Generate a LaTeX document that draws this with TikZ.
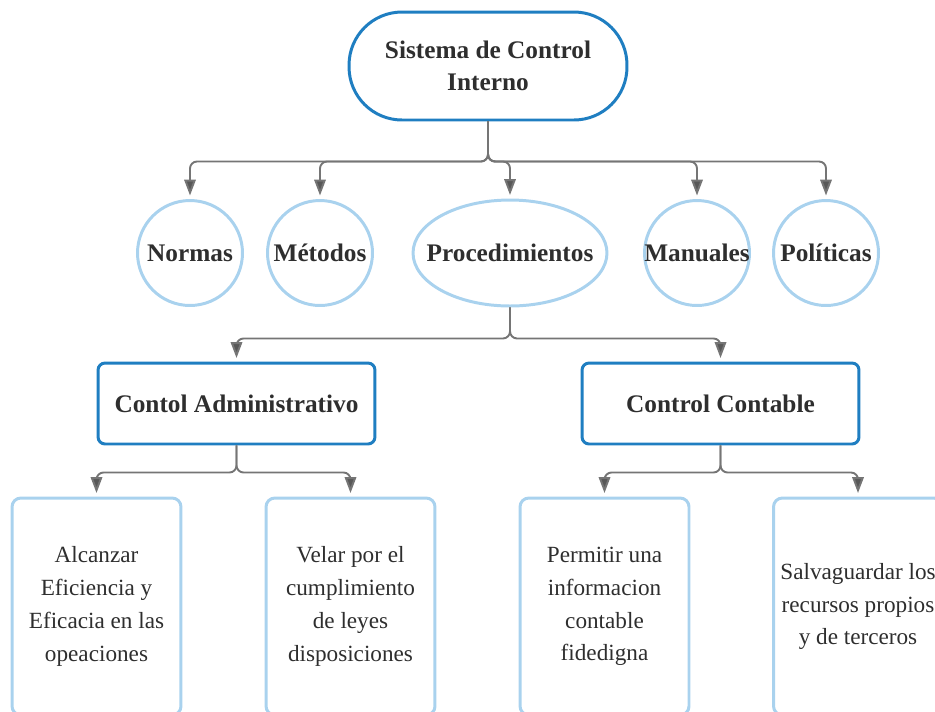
\documentclass[tikz,border=0pt]{standalone}
\usepackage{fontspec}
\setmainfont{Liberation Serif}
\usepackage{xcolor}
\definecolor{pillblue}{HTML}{1F7EC1}
\definecolor{paleblue}{HTML}{A9D2EE}
\definecolor{linkgrey}{HTML}{757575}
\definecolor{inkdark}{HTML}{2E2E2E}
\usepackage{tikz}
\usetikzlibrary{arrows.meta,shapes.geometric}

\begin{document}
\begin{tikzpicture}[x=0.02cm, y=-0.02cm,
    rootnode/.style={draw=pillblue, line width=1.7pt, rounded corners=1.06cm, minimum width=5.56cm, minimum height=2.16cm, align=center, text=inkdark, font=\bfseries\fontsize{14.4}{18}\selectfont},
    roundnode/.style={circle, draw=paleblue, line width=1.7pt, minimum size=2.1cm, inner sep=-6pt, text=inkdark, font=\bfseries\fontsize{14.4}{18}\selectfont},
    ovalnode/.style={ellipse, draw=paleblue, line width=1.7pt, minimum width=3.88cm, minimum height=2.12cm, inner sep=-12pt, text=inkdark, font=\bfseries\fontsize{14.4}{18}\selectfont},
    kindbox/.style={draw=pillblue, line width=1.7pt, rounded corners=4pt, minimum width=5.54cm, minimum height=1.62cm, text=inkdark, font=\bfseries\fontsize{14.4}{18}\selectfont},
    aimbox/.style={draw=paleblue, line width=1.7pt, rounded corners=5pt, minimum width=3.38cm, minimum height=4.34cm, align=center, text=inkdark, font=\fontsize{13.2}{18.7}\selectfont},
    link/.style={draw=linkgrey, line width=1.1pt, rounded corners=4pt, shorten >=2pt, -{Triangle[length=9pt, width=6.5pt, fill=linkgrey!75!black]}}]
  \clip (0,0) rectangle (935,711);

  \node[rootnode] (top) at (488,66) {Sistema de Control\\Interno};

  \node[roundnode] (normas)    at (190,253) {Normas};
  \node[roundnode] (metodos)   at (320,253) {Métodos};
  \node[ovalnode]  (proced)    at (510,253) {Procedimientos};
  \node[roundnode] (manuales)  at (697,253) {Manuales};
  \node[roundnode] (politicas) at (826,253) {Políticas};

  \node[kindbox] (admin)    at (236.5,403.5) {Contol Administrativo};
  \node[kindbox] (contable) at (720.5,403.5) {Control Contable};

  \node[aimbox] (alcanzar) at (96.5,606.5)  {Alcanzar\\Eficiencia y\\Eficacia en las\\opeaciones};
  \node[aimbox] (velar)    at (350.5,606.5) {Velar por el\\cumplimiento\\de leyes\\disposiciones};
  \node[aimbox] (permitir) at (604.5,606.5) {Permitir una\\informacion\\contable\\fidedigna};
  \node[aimbox] (salva)    at (858,606.5)   {Salvaguardar los\\recursos propios\\y de terceros};

  % connectors
  \foreach \c in {normas,metodos,proced,manuales,politicas}
    \draw[link] (top.south) -- ++(0,40) -| (\c.north);
  \foreach \c in {admin,contable}
    \draw[link] (proced.south) -- ++(0,31) -| (\c.north);
  \foreach \c in {alcanzar,velar}
    \draw[link] (admin.south) -- ++(0,27) -| (\c.north);
  \foreach \c in {permitir,salva}
    \draw[link] (contable.south) -- ++(0,27) -| (\c.north);
\end{tikzpicture}
\end{document}
